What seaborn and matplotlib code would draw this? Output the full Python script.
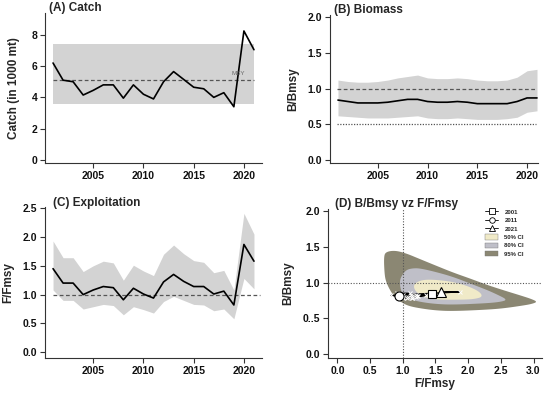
import numpy as np
import pandas as pd
import matplotlib
matplotlib.use("Agg")
import matplotlib.pyplot as plt
from matplotlib.lines import Line2D
from matplotlib.patches import Patch
import seaborn as sns

# ---------------- data ----------------
years = list(range(2001, 2022))
catch = [6.2, 5.1, 5.0, 4.15, 4.45, 4.8, 4.8, 3.95, 4.8, 4.2, 3.9, 5.0, 5.65, 5.15,
         4.65, 4.55, 4.0, 4.3, 3.4, 8.25, 7.05]
msy = 5.1
msy_lo, msy_hi = 3.55, 7.4

bbmsy = [0.84, 0.82, 0.80, 0.80, 0.80, 0.81, 0.83, 0.85, 0.85, 0.82, 0.81, 0.81, 0.82,
         0.81, 0.79, 0.79, 0.79, 0.79, 0.82, 0.87, 0.87]
bbmsy_hi = [1.12, 1.10, 1.09, 1.09, 1.10, 1.12, 1.15, 1.17, 1.19, 1.15, 1.14, 1.14, 1.15,
            1.14, 1.12, 1.11, 1.11, 1.12, 1.16, 1.25, 1.27]
bbmsy_lo = [0.62, 0.61, 0.60, 0.59, 0.59, 0.59, 0.60, 0.61, 0.62, 0.59, 0.58, 0.58, 0.59,
            0.58, 0.57, 0.57, 0.57, 0.58, 0.60, 0.67, 0.69]

ffmsy = [1.45, 1.20, 1.20, 1.00, 1.08, 1.14, 1.12, 0.91, 1.11, 1.01, 0.94, 1.22, 1.35,
         1.23, 1.14, 1.14, 1.01, 1.06, 0.82, 1.87, 1.58]
ffmsy_hi = [1.93, 1.64, 1.64, 1.40, 1.50, 1.58, 1.55, 1.25, 1.51, 1.41, 1.33, 1.70, 1.86,
            1.71, 1.59, 1.56, 1.38, 1.42, 1.08, 2.41, 2.05]
ffmsy_lo = [1.08, 0.90, 0.90, 0.75, 0.79, 0.83, 0.81, 0.65, 0.79, 0.74, 0.68, 0.88, 0.97,
            0.90, 0.83, 0.82, 0.72, 0.75, 0.58, 1.28, 1.10]

# Kobe confidence region outlines (F/Fmsy, B/Bmsy)
ci95_f = [0.71, 0.74, 0.88, 1.05, 1.26, 1.50, 1.77, 2.05, 2.28, 2.55, 2.80, 2.97, 3.06,
          2.97, 2.85, 2.55, 2.28, 1.77, 1.50, 1.26, 1.10, 1.00, 0.88, 0.80, 0.74, 0.72]
ci95_b = [1.36, 1.43, 1.45, 1.41, 1.33, 1.24, 1.14, 1.05, 0.97, 0.89, 0.82, 0.77, 0.73,
          0.70, 0.68, 0.64, 0.62, 0.60, 0.61, 0.64, 0.67, 0.71, 0.79, 0.90, 1.02, 1.13]
ci80_f = [0.955, 1.00, 1.06, 1.15, 1.26, 1.50, 1.77, 2.05, 2.28, 2.45, 2.60, 2.50, 2.28,
          1.77, 1.50, 1.26, 1.10, 1.00, 0.96]
ci80_b = [1.04, 1.12, 1.18, 1.20, 1.20, 1.15, 1.08, 0.98, 0.90, 0.83, 0.76, 0.73, 0.71,
          0.69, 0.70, 0.73, 0.77, 0.83, 0.93]
ci50_f = [1.16, 1.20, 1.31, 1.50, 1.77, 2.00, 2.18, 2.22, 2.10, 1.93, 1.52, 1.35, 1.22]
ci50_b = [0.94, 1.00, 1.04, 1.04, 1.01, 0.95, 0.87, 0.80, 0.77, 0.76, 0.76, 0.79, 0.85]

ci_labels = ["50% CI", "80% CI", "95% CI"]
ci_colors = ["#f0eac8", "#bfbfc8", "#8b8773"]
year_marks = [2001, 2011, 2021]

# ---------------- style ----------------
sns.set_style("ticks")
plt.rcParams["font.family"] = ["Liberation Sans", "DejaVu Sans"]
plt.rcParams["font.weight"] = "bold"
plt.rcParams["axes.labelweight"] = "bold"
plt.rcParams["xtick.labelsize"] = 7.5
plt.rcParams["ytick.labelsize"] = 7.5
plt.rcParams["xtick.major.size"] = 3.5
plt.rcParams["ytick.major.size"] = 3.5
plt.rcParams["xtick.major.width"] = 0.8
plt.rcParams["ytick.major.width"] = 0.8
plt.rcParams["axes.linewidth"] = 0.8
plt.rcParams["axes.edgecolor"] = "#333333"
plt.rcParams["xtick.color"] = "#333333"
plt.rcParams["ytick.color"] = "#333333"
plt.rcParams["xtick.labelcolor"] = "#111111"
plt.rcParams["ytick.labelcolor"] = "#111111"

fig = plt.figure(figsize=(5.5, 3.95), dpi=100)
W, H = 550.0, 395.0


def add_ax(l, r, t, b):
    return fig.add_axes([l / W, 1 - b / H, (r - l) / W, (b - t) / H])


axA = add_ax(45, 262, 13, 163)
axB = add_ax(330, 538, 15, 163)
axC = add_ax(45, 262, 207, 358)
axD = add_ax(328, 542, 209, 358)

for ax in (axA, axB, axC, axD):
    sns.despine(ax=ax)
    ax.tick_params(pad=2)

df = pd.DataFrame({"year": years, "catch": catch, "b": bbmsy, "f": ffmsy})
title_kw = dict(fontsize=8.5, fontweight="bold", va="bottom", ha="left")

# ---- (A) Catch ----
axA.fill_between([years[0], years[-1]], msy_lo, msy_hi, color="#d3d3d3", lw=0)
axA.axhline(msy, xmin=(years[0] - 2000.2) / 21.6, xmax=(years[-1] - 2000.2) / 21.6,
            color="#555555", lw=0.9, ls=(0, (3, 2)))
sns.lineplot(data=df, x="year", y="catch", ax=axA, color="black", lw=1.2)
axA.text(2019.4, 5.45, "MSY", fontsize=4.5, color="#666666", ha="center", fontweight="normal")
axA.set_xlim(2000.2, 2021.8)
axA.set_ylim(-0.2, 9.4)
axA.set_yticks([0, 2, 4, 6, 8])
axA.set_xticks([2005, 2010, 2015, 2020])
axA.set_xlabel("")
axA.set_ylabel("Catch (in 1000 mt)", fontsize=8.5, labelpad=8)
axA.text(0.02, 0.99, "(A) Catch", transform=axA.transAxes, **title_kw)

# ---- (B) Biomass ----
axB.fill_between(years, bbmsy_lo, bbmsy_hi, color="#d3d3d3", lw=0)
axB.axhline(1.0, xmin=0.035, xmax=0.99, color="#555555", lw=0.9, ls=(0, (3, 2)))
axB.axhline(0.5, xmin=0.035, xmax=0.99, color="#555555", lw=0.9, ls=(0, (1, 1.2)))
sns.lineplot(data=df, x="year", y="b", ax=axB, color="black", lw=1.2)
axB.set_xlim(2000.2, 2021.1)
axB.set_ylim(-0.04, 2.03)
axB.set_yticks([0.0, 0.5, 1.0, 1.5, 2.0])
axB.set_yticklabels(["0.0", "0.5", "1.0", "1.5", "2.0"])
axB.set_xticks([2005, 2010, 2015, 2020])
axB.set_xlabel("")
axB.set_ylabel("B/Bmsy", fontsize=8.5, labelpad=6)
axB.text(0.02, 0.99, "(B) Biomass", transform=axB.transAxes, **title_kw)

# ---- (C) Exploitation ----
axC.fill_between(years, ffmsy_lo, ffmsy_hi, color="#d3d3d3", lw=0)
axC.axhline(1.0, xmin=0.037, xmax=0.99, color="#555555", lw=0.9, ls=(0, (3, 2)))
sns.lineplot(data=df, x="year", y="f", ax=axC, color="black", lw=1.2)
axC.set_xlim(2000.2, 2021.8)
axC.set_ylim(-0.1, 2.52)
axC.set_yticks([0.0, 0.5, 1.0, 1.5, 2.0, 2.5])
axC.set_yticklabels(["0.0", "0.5", "1.0", "1.5", "2.0", "2.5"])
axC.set_xticks([2005, 2010, 2015, 2020])
axC.set_xlabel("")
axC.set_ylabel("F/Fmsy", fontsize=8.5, labelpad=6)
axC.text(0.035, 0.99, "(C) Exploitation", transform=axC.transAxes, **title_kw)


# ---- (D) Kobe ----
def smooth_closed(xs, ys, n_iter=3):
    p = np.column_stack([xs, ys]).astype(float)
    for _ in range(n_iter):
        q = np.roll(p, -1, axis=0)
        p = np.vstack([np.column_stack([0.75 * p[:, 0] + 0.25 * q[:, 0], 0.75 * p[:, 1] + 0.25 * q[:, 1]]),
                       np.column_stack([0.25 * p[:, 0] + 0.75 * q[:, 0], 0.25 * p[:, 1] + 0.75 * q[:, 1]])])
        # re-order interleaved
        n = len(p) // 2
        inter = np.empty_like(p)
        inter[0::2] = p[:n]
        inter[1::2] = p[n:]
        p = inter
    return p[:, 0], p[:, 1]


for (fx, by), col in zip([(ci95_f, ci95_b), (ci80_f, ci80_b), (ci50_f, ci50_b)],
                         [ci_colors[2], ci_colors[1], ci_colors[0]]):
    sx, sy = smooth_closed(fx, by)
    axD.fill(sx, sy, color=col, lw=0)

axD.axvline(1.0, color="#555555", lw=0.8, ls=(0, (1, 1.5)))
axD.axhline(1.0, color="#555555", lw=0.8, ls=(0, (1, 1.5)))
sns.lineplot(data=df, x="f", y="b", ax=axD, sort=False, color="black", lw=1.0,
             marker="x", markersize=3, markeredgewidth=0.7, estimator=None)
mk = {2001: "s", 2011: "o", 2021: "^"}
ms = {2001: 6, 2011: 6.5, 2021: 7.5}
for yr in year_marks:
    i = years.index(yr)
    axD.plot(ffmsy[i], bbmsy[i], marker=mk[yr], ms=ms[yr], mfc="white", mec="black",
             mew=0.8, ls="none", zorder=5)
axD.set_xlim(-0.144, 3.13)
axD.set_ylim(-0.056, 2.03)
axD.set_xticks([0.0, 0.5, 1.0, 1.5, 2.0, 2.5, 3.0])
axD.set_xticklabels(["0.0", "0.5", "1.0", "1.5", "2.0", "2.5", "3.0"])
axD.set_yticks([0.0, 0.5, 1.0, 1.5, 2.0])
axD.set_yticklabels(["0.0", "0..5", "1.0", "1.5", "2.0"])
axD.set_xlabel("F/Fmsy", fontsize=8.5, labelpad=2)
axD.set_ylabel("B/Bmsy", fontsize=8.5, labelpad=6)
axD.text(0.033, 0.99, "(D) B/Bmsy vz F/Fmsy", transform=axD.transAxes, **title_kw)

handles = [Line2D([], [], color="black", lw=0.6, marker=mk[y], ms=4, mfc="white",
                  mec="black", mew=0.6) for y in year_marks]
handles += [Patch(facecolor=c, edgecolor="#777777", lw=0.3) for c in ci_colors]
labels = [str(y) for y in year_marks] + ci_labels
leg = axD.legend(handles, labels, loc="upper right", bbox_to_anchor=(0.93, 1.02),
                 frameon=False, prop=dict(size=4.3, weight="bold"), handlelength=2.2,
                 handleheight=1.0, labelspacing=0.45, handletextpad=1.0, borderpad=0)

fig.savefig("out.png", dpi=100)
